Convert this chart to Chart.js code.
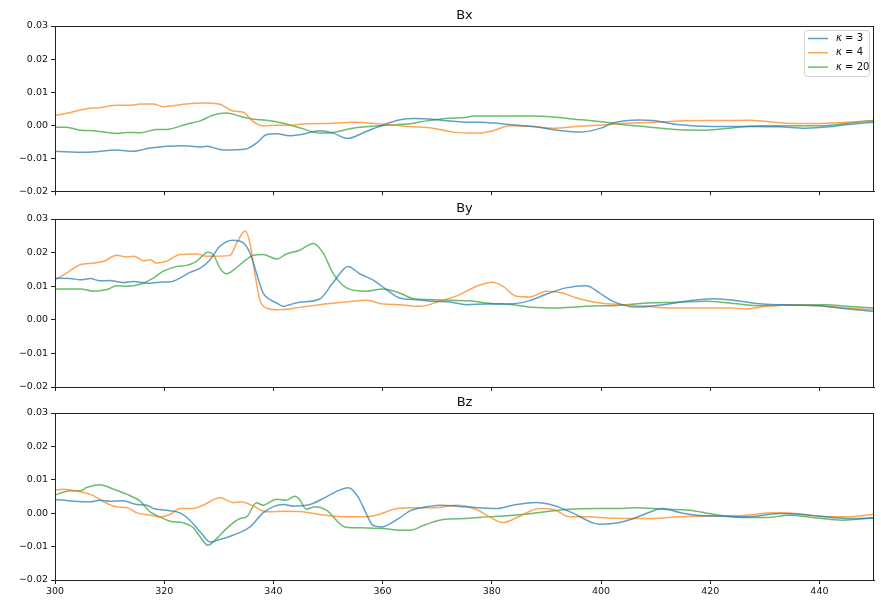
<!DOCTYPE html>
<html>
<head>
<meta charset="utf-8">
<script src="https://cdn.jsdelivr.net/npm/chart.js@4.4.0/dist/chart.umd.min.js"></script>
<style>
  body { margin: 0; background: #fff; }
  #wrap { position: relative; width: 881px; height: 601px; }
  canvas { position: absolute; left: 0; }
</style>
</head>
<body>
<div id="wrap">
  <canvas id="bxChart" width="881" height="200" style="top:0px"></canvas>
  <canvas id="byChart" width="881" height="210" style="top:190px"></canvas>
  <canvas id="bzChart" width="881" height="216" style="top:385px"></canvas>
</div>
<script>
// Data, [time, value] pairs
const seriesLabels = ['3', '4', '20'];
const panelTitles = ['Bx', 'By', 'Bz'];
const xTicks = [300, 320, 340, 360, 380, 400, 420, 440];
const yTicks = [-0.02, -0.01, 0.00, 0.01, 0.02, 0.03];

const bxK3 = [[300,-0.0079],[305.5,-0.0082],[311.3,-0.0075],[314.4,-0.0079],[317.4,-0.0069],[323.5,-0.0062],[326.6,-0.0066],[327.8,-0.0064],[330.8,-0.0075],[335,-0.0072],[336.9,-0.0054],[338.7,-0.0029],[340.6,-0.0026],[343,-0.0032],[344.8,-0.0029],[348.5,-0.0017],[350.9,-0.0024],[353.6,-0.004],[357,-0.0019],[360,0],[363,0.0016],[365.9,0.002],[370.4,0.0016],[375.4,0.0009],[379,0.0008],[383.8,0.0001],[387.5,-0.0004],[392.4,-0.0016],[396,-0.0021],[400,-0.0009],[402.2,0.0007],[407,0.0016],[409.5,0.0014],[414.4,0.0001],[420.5,-0.0004],[426.6,-0.0004],[432.7,-0.0005],[437.5,-0.0009],[441.8,-0.0005],[444.8,0.0001],[450,0.0009]];
const bxK4 = [[300,0.0029],[302.1,0.0036],[305.8,0.005],[308.2,0.0053],[311.3,0.006],[313.7,0.006],[315.6,0.0064],[318,0.0064],[319.8,0.0056],[321.6,0.0059],[324.1,0.0064],[327.1,0.0067],[330.2,0.0063],[332.6,0.0043],[334.5,0.0039],[336.3,0.0011],[338.1,-0.0002],[340.6,0],[343,-0.0001],[344.8,0.0003],[350.9,0.0006],[354.6,0.0009],[360.1,0.0003],[365,-0.0004],[369.2,-0.0009],[372.9,-0.0021],[377.8,-0.0024],[380.2,-0.0017],[383.3,-0.0002],[387.5,-0.0004],[391.2,-0.0009],[395.5,-0.0004],[399.7,0],[402.2,0.0003],[408.3,0.0008],[414.4,0.0013],[421.7,0.0014],[427.2,0.0015],[430.3,0.0011],[435.1,0.0005],[440,0.0005],[444.9,0.0009],[450,0.0013]];
const bxK20 = [[300,-0.0006],[302.1,-0.0006],[304.6,-0.0015],[307.1,-0.0017],[311.3,-0.0025],[313.1,-0.0022],[315.6,-0.0023],[318.6,-0.0013],[320.4,-0.0013],[324.1,0.0003],[326.6,0.0013],[329,0.0031],[331.4,0.0037],[333.9,0.0027],[336.3,0.0018],[338.7,0.0015],[341.8,0.0006],[344.8,-0.0008],[348.5,-0.0024],[350.9,-0.0022],[354.6,-0.0009],[360.1,-0.0001],[365,0.0004],[368,0.0013],[372.3,0.0021],[375.3,0.0023],[376.5,0.0028],[381.4,0.0028],[387.5,0.0028],[391.2,0.0025],[394.8,0.0019],[399.7,0.0011],[403.4,0.0003],[408.3,-0.0005],[414.4,-0.0014],[419.3,-0.0015],[423.5,-0.0009],[429.6,-0.0002],[435.7,-0.0002],[440,-0.0002],[444.9,0.0005],[450,0.0015]];

const byK3 = [[300,0.0124],[302.7,0.0123],[304.6,0.0119],[306.5,0.0123],[308.2,0.0116],[310,0.0117],[312.5,0.0111],[314.4,0.0114],[316.8,0.0109],[319.2,0.0112],[321.1,0.0113],[322.9,0.0124],[324.7,0.0141],[326.6,0.0154],[328.4,0.0179],[330.2,0.0219],[332.6,0.0237],[334.5,0.0229],[335.7,0.0199],[336.9,0.0139],[338.1,0.008],[339.4,0.006],[340.6,0.005],[341.8,0.004],[343,0.0045],[344.8,0.0052],[348.5,0.0062],[350.9,0.011],[353.7,0.0159],[355.8,0.0137],[358.2,0.0119],[360.7,0.009],[363.1,0.0065],[366.2,0.006],[369.2,0.0055],[372.3,0.0053],[375.3,0.0045],[379,0.0047],[383.9,0.0048],[386.9,0.0057],[390.6,0.008],[393.6,0.0095],[397.3,0.0101],[399.7,0.008],[402.2,0.0055],[406.5,0.0038],[411.3,0.0045],[416.2,0.0057],[420.5,0.0063],[424.8,0.0057],[429.6,0.0047],[435.1,0.0044],[440,0.0042],[444.9,0.0033],[450,0.0025]];
const byK4 = [[300,0.0119],[302.1,0.0139],[304.6,0.0164],[307.1,0.0169],[308.9,0.0174],[311.3,0.0192],[313.1,0.0187],[314.4,0.0189],[316.2,0.0176],[317.4,0.0179],[318.6,0.0169],[320.4,0.0174],[322.9,0.0194],[325.9,0.0196],[327.8,0.0189],[332,0.0191],[333.3,0.0229],[334.8,0.0264],[335.7,0.0229],[336.6,0.0139],[337.5,0.006],[338.7,0.0035],[340.6,0.003],[343,0.0032],[344.8,0.0037],[348.5,0.0045],[353.4,0.0053],[357,0.0058],[360.1,0.0047],[363.1,0.0045],[366.8,0.004],[370.4,0.0055],[374.1,0.0075],[377.2,0.01],[380.2,0.0112],[382,0.01],[384.5,0.007],[386.9,0.0068],[390,0.0085],[393,0.008],[395.5,0.0065],[399.8,0.005],[404,0.0045],[408.3,0.004],[413.2,0.0035],[417.4,0.0035],[423.5,0.0035],[426.6,0.0033],[430.3,0.004],[435.1,0.0044],[440,0.0042],[444.9,0.0035],[450,0.003]];
const byK20 = [[300,0.0092],[304.6,0.0092],[307.1,0.0085],[309.5,0.009],[311.3,0.0101],[313.1,0.01],[315.6,0.0106],[318,0.0124],[319.8,0.0144],[322.3,0.0159],[324.1,0.0162],[325.9,0.0174],[328,0.0201],[329,0.0194],[330.2,0.0154],[331.4,0.0137],[332.6,0.0147],[335,0.0179],[336.3,0.0192],[338.1,0.0194],[340.6,0.0181],[342.4,0.0196],[344.8,0.0207],[347.3,0.0227],[349.1,0.0199],[350.9,0.0139],[353.4,0.0095],[357,0.0085],[360.1,0.0092],[363.1,0.008],[365.6,0.0063],[369.2,0.006],[372.3,0.0058],[375.9,0.0057],[379,0.005],[383.9,0.0045],[387.5,0.0037],[391.8,0.0035],[396.1,0.0039],[399.7,0.0042],[402.2,0.0042],[408.3,0.005],[414.4,0.0052],[419.3,0.0055],[423.5,0.005],[429.6,0.0042],[435.1,0.0044],[441.2,0.0045],[444.9,0.004],[450,0.0035]];

const bzK3 = [[300,0.0041],[303.4,0.0036],[306.5,0.0034],[308.2,0.0039],[310,0.0036],[312.5,0.0037],[315,0.0026],[316.8,0.0024],[318,0.0014],[320.4,0.0009],[322.9,0.0001],[324.7,-0.0021],[326.6,-0.0056],[328.4,-0.0086],[330.2,-0.0079],[332.6,-0.0066],[335.7,-0.0041],[338.1,0.0001],[339.9,0.0019],[341.8,0.0026],[343.6,0.0021],[344.8,0.0022],[346.7,0.0026],[349.7,0.0049],[352.1,0.0069],[353.7,0.0076],[355.5,0.0049],[357,-0.0001],[358.2,-0.0036],[359.8,-0.0041],[363.1,-0.0014],[365,0.0007],[368,0.0019],[370.4,0.0024],[375.3,0.0019],[380.8,0.0014],[383.9,0.0024],[388.1,0.0032],[391.2,0.0024],[394.8,0.0001],[398.5,-0.0029],[399.8,-0.0033],[403.4,-0.0028],[405.9,-0.0016],[408.3,-0.0001],[411.3,0.0014],[414.4,0.0002],[417.4,-0.0006],[421.7,-0.0009],[426.6,-0.0011],[432.7,-0.0001],[436.4,-0.0003],[440,-0.0009],[444.9,-0.0016],[450,-0.0014]];
const bzK4 = [[300,0.0069],[301.5,0.0072],[304,0.0066],[307.1,0.0052],[308.9,0.0034],[311.3,0.0019],[313.1,0.0017],[315,0.0001],[317.4,-0.0006],[319.2,-0.0011],[321.1,-0.0003],[322.9,0.0014],[325.3,0.0014],[327.1,0.0024],[330.2,0.0046],[332.6,0.0032],[333.9,0.0034],[336.3,0.0022],[338.7,0.0004],[342.4,0.0006],[344.8,0.0005],[350.9,-0.0009],[357,-0.0011],[359.5,-0.0003],[361.9,0.0011],[365,0.0016],[370.4,0.0017],[373.5,0.0024],[377.2,0.0011],[379.6,-0.0011],[382,-0.0028],[385.1,-0.0009],[388.7,0.0014],[391.2,0.0012],[394.2,-0.0011],[397.9,-0.0011],[401,-0.0014],[408.3,-0.0016],[414.4,-0.0011],[420.5,-0.0008],[426.6,-0.0006],[431.5,0.0001],[435.1,0],[440,-0.0009],[444.9,-0.0011],[450,-0.0003]];
const bzK20 = [[300,0.0054],[302.7,0.0067],[304.6,0.0067],[305.8,0.0077],[308.2,0.0085],[310.7,0.0072],[313.1,0.0057],[315.6,0.0036],[317.4,0.0004],[319.2,-0.0011],[321.1,-0.0024],[323.5,-0.0029],[325.3,-0.0043],[326.6,-0.0071],[328,-0.0096],[329.6,-0.0076],[331.4,-0.0046],[333.9,-0.0016],[335.1,-0.0011],[336.9,0.0031],[338.1,0.0024],[340.6,0.0042],[342.4,0.0039],[343.9,0.0051],[344.8,0.0041],[346,0.0012],[347.6,0.0019],[349.7,0.0009],[353.1,-0.0041],[357,-0.0044],[360.1,-0.0046],[363.1,-0.0051],[365,-0.0051],[368,-0.0033],[371.1,-0.0019],[375.3,-0.0016],[379,-0.0011],[383.9,-0.0006],[388.7,0.0002],[393.6,0.0011],[399.7,0.0014],[402.2,0.0014],[406.5,0.0016],[411.3,0.0012],[416.2,0.0009],[420.5,-0.0003],[426.6,-0.0013],[430.3,-0.0013],[434.5,-0.0006],[438.8,-0.0013],[444.3,-0.0021],[450,-0.0014]];

const colors = ['rgba(31,119,180,0.7)', 'rgba(255,127,14,0.7)', 'rgba(44,160,44,0.7)'];
const FONT = '"DejaVu Sans", sans-serif';

// frame + title drawn on top of each panel
const framePlugin = {
    id: 'frame',
    afterDraw(chart) {
        const { ctx, chartArea: a } = chart;
        ctx.save();
        ctx.strokeStyle = '#222';
        ctx.lineWidth = 1;
        ctx.strokeRect(Math.round(a.left) + 0.5, Math.round(a.top) + 0.5,
            Math.round(a.right - a.left) - 1, Math.round(a.bottom - a.top));
        ctx.fillStyle = '#111';
        ctx.font = '13px ' + FONT;
        ctx.textAlign = 'center';
        ctx.textBaseline = 'middle';
        ctx.fillText(chart.options.plugins.frame.title, (a.left + a.right) / 2, a.top - 10.5);
        ctx.restore();
    }
};

const kappaLegend = {
    id: 'kappaLegend',
    afterDraw(chart) {
        if (!chart.options.plugins.kappaLegend.show) return;
        const { ctx, chartArea: a } = chart;
        const w = 65, h = 46;
        const x0 = a.right - 5 - w, y0 = a.top + 4;
        ctx.save();
        ctx.beginPath();
        ctx.roundRect(x0 + 0.5, y0 + 0.5, w, h, 3);
        ctx.fillStyle = 'rgba(255,255,255,0.8)';
        ctx.fill();
        ctx.strokeStyle = '#d0d0d0';
        ctx.lineWidth = 1;
        ctx.stroke();
        chart.data.datasets.forEach((ds, i) => {
            const y = y0 + 8.5 + i * 14.3;
            ctx.strokeStyle = ds.borderColor;
            ctx.lineWidth = 1.5;
            ctx.beginPath();
            ctx.moveTo(x0 + 4, y);
            ctx.lineTo(x0 + 24, y);
            ctx.stroke();
            ctx.fillStyle = '#111';
            ctx.textBaseline = 'middle';
            ctx.font = 'italic 10px ' + FONT;
            ctx.fillText('κ', x0 + 32, y);
            const kw = ctx.measureText('κ').width;
            ctx.font = '10px ' + FONT;
            ctx.fillText(' = ' + seriesLabels[i], x0 + 32 + kw, y);
        });
        ctx.restore();
    }
};

function toPoints(arr) {
    return arr.map(p => ({ x: p[0], y: p[1] }));
}

function makePanel(id, title, series, opts) {
    const ctx = document.getElementById(id).getContext('2d');
    return new Chart(ctx, {
        type: 'line',
        data: {
            datasets: series.map((s, i) => ({
                label: 'κ = ' + seriesLabels[i],
                data: toPoints(s),
                borderColor: colors[i],
                borderWidth: 1.5,
                pointRadius: 0,
                cubicInterpolationMode: 'monotone',
                fill: false
            }))
        },
        options: {
            responsive: false,
            animation: false,
            layout: { padding: { top: opts.top, right: 7, left: 0, bottom: 0 } },
            plugins: {
                legend: { display: false },
                tooltip: { enabled: false },
                frame: { title: title },
                kappaLegend: { show: opts.legend }
            },
            scales: {
                x: {
                    type: 'linear',
                    min: 300,
                    max: 450,
                    afterBuildTicks: s => { s.ticks = xTicks.map(v => ({ value: v })); },
                    afterFit: s => { s.height = opts.xh; },
                    grid: { display: true, drawOnChartArea: false, drawTicks: true, tickLength: 4, color: '#222' },
                    border: { display: true, color: '#222' },
                    ticks: {
                        display: opts.labels,
                        padding: 2,
                        maxRotation: 0,
                        color: '#111',
                        font: { family: FONT, size: 9.5 }
                    }
                },
                y: {
                    min: -0.02,
                    max: 0.03,
                    afterBuildTicks: s => { s.ticks = yTicks.map(v => ({ value: v })); },
                    afterFit: s => { s.width = 55; },
                    grid: { display: true, drawOnChartArea: false, drawTicks: true, tickLength: 4, color: '#222' },
                    border: { display: true, color: '#222' },
                    ticks: {
                        padding: 3,
                        color: '#111',
                        font: { family: FONT, size: 9.5 },
                        callback: v => {
                            const t = Math.abs(v).toFixed(2);
                            return (v < -1e-9 ? '\u2212' : '') + t;
                        }
                    }
                }
            }
        },
        plugins: [framePlugin, kappaLegend]
    });
}

makePanel('bxChart', panelTitles[0], [bxK3, bxK4, bxK20], { top: 26, xh: 6, labels: false, legend: true });
makePanel('byChart', panelTitles[1], [byK3, byK4, byK20], { top: 29, xh: 13, labels: false, legend: false });
makePanel('bzChart', panelTitles[2], [bzK3, bzK4, bzK20], { top: 28, xh: 21, labels: true, legend: false });
</script>
</body>
</html>
